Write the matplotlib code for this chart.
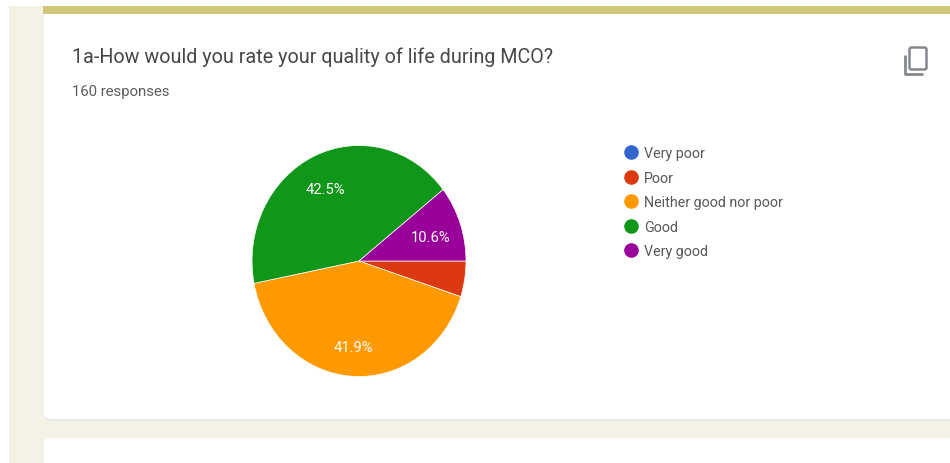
import matplotlib
matplotlib.use("Agg")
import matplotlib.pyplot as plt
from matplotlib.patches import FancyBboxPatch, Rectangle
from matplotlib.lines import Line2D

plt.rcParams['font.family'] = ['Roboto', 'DejaVu Sans']

title = "1a-How would you rate your quality of life during MCO?"
subtitle = "160 responses"
categories = ["Very poor", "Poor", "Neither good nor poor", "Good", "Very good"]
values = [0.0, 5.0, 41.9, 42.5, 10.6]
colors = ["#3366cc", "#dc3912", "#ff9900", "#109618", "#990099"]

W, H = 950, 464
fig = plt.figure(figsize=(W / 100, H / 100), dpi=100, facecolor="white")

bg = fig.add_axes([0, 0, 1, 1])
bg.set_xlim(0, W)
bg.set_ylim(H, 0)
bg.axis("off")

bg.add_patch(Rectangle((9, 7), W - 9, H - 7, fc="#f4f2e4", ec="none"))


def card(y0, y1):
    bg.add_patch(FancyBboxPatch((45, y0 + 2), W, y1 - y0 - 1,
                                boxstyle="round,pad=0,rounding_size=6",
                                fc="#e6e6e3", ec="#e6e6e3", lw=1.5))
    bg.add_patch(FancyBboxPatch((44, y0), W, y1 - y0,
                                boxstyle="round,pad=0,rounding_size=6",
                                fc="white", ec="none"))


card(10, 420)
card(439, 520)
bg.add_patch(Rectangle((43, 7), W, 8, fc="#cdc777", ec="none"))

bg.text(72, 57, title, fontsize=14.2, color="#45484b", va="center", ha="left")
bg.text(72, 92, subtitle, fontsize=10.7, color="#5a5d60", va="center", ha="left")

# copy icon
bg.add_patch(FancyBboxPatch((909.5, 48.5), 17, 22,
                            boxstyle="round,pad=0,rounding_size=2",
                            fc="none", ec="#84888d", lw=1.8))
bg.plot([905, 905, 923], [56, 74.5, 74.5], color="#84888d", lw=2.0,
        solid_joinstyle="round", solid_capstyle="butt")

# pie (slightly stretched vertically, as in the reference)
px0, px1, py0, py1 = 252, 466, 146.5, 377.5
pie = fig.add_axes([px0 / W, 1 - py1 / H, (px1 - px0) / W, (py1 - py0) / H])
wedges, _, autotexts = pie.pie(
    values, colors=colors, startangle=0, counterclock=False, radius=1,
    autopct=lambda p: f"{p:.1f}%" if p >= 6 else "", pctdistance=0.72,
    wedgeprops=dict(edgecolor="white", linewidth=0.5),
    textprops=dict(color="white", fontsize=10.6),
)
for t in autotexts:
    x, y = t.get_position()
    t.set_position((x - 0.01, y - 0.03))
pie.set_aspect("auto")
pie.set_xlim(-1, 1)
pie.set_ylim(-1, 1)

handles = [Line2D([], [], ls="none", marker="o", ms=10.5, mfc=c, mec="none")
           for c in colors]
bg.legend(handles, categories, loc="upper left",
          bbox_to_anchor=(618 / W, 1 - 143 / H), frameon=False,
          fontsize=10.3, labelcolor="#55585b", handlelength=1.15,
          handletextpad=0.37, labelspacing=0.73, borderpad=0.3, borderaxespad=0)

fig.savefig("out.png", dpi=100, facecolor="white")
